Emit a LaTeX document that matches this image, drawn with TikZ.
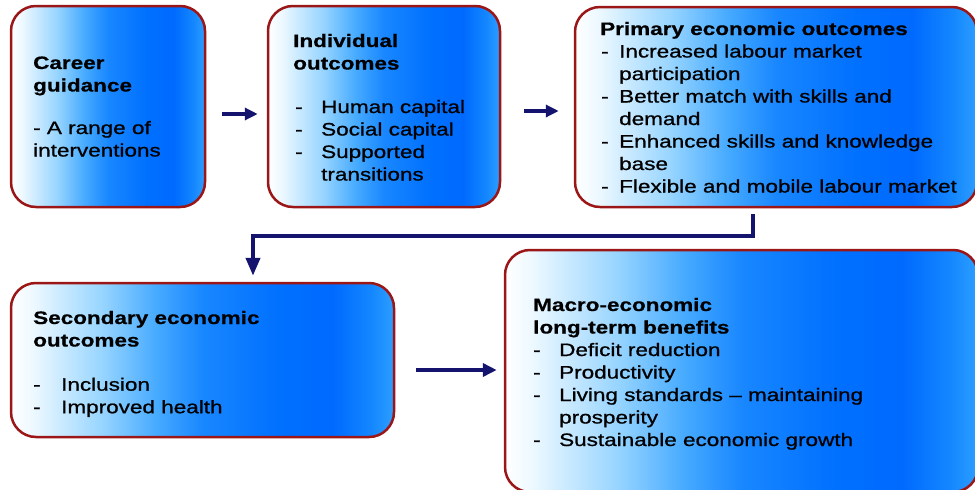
\documentclass[tikz,border=0pt]{standalone}
\usepackage{fontspec}
\setmainfont{Liberation Sans}[FakeStretch=1.25, UprightFeatures={FakeBold=0.9}, BoldFeatures={FakeBold=0.6}]
\usetikzlibrary{arrows.meta,calc}

\definecolor{edgered}{RGB}{155,22,22}
\definecolor{linkblue}{RGB}{20,20,110}
\definecolor{sa}{RGB}{236,248,255}
\definecolor{sb}{RGB}{150,212,255}
\definecolor{sc}{RGB}{70,170,255}
\definecolor{sd}{RGB}{25,135,255}
\definecolor{se}{RGB}{0,112,255}
\definecolor{sf}{RGB}{0,106,255}
\definecolor{sg}{RGB}{20,135,255}
\definecolor{sh}{RGB}{45,158,255}

% white on the left, deep blue towards the right, a little lighter at the edge
\pgfdeclarehorizontalshading{boxshade}{100bp}{%
  color(0bp)=(white); color(25bp)=(white); color(28bp)=(sa);
  color(37bp)=(sb); color(44bp)=(sc); color(50bp)=(sd);
  color(60bp)=(se); color(67bp)=(sf); color(72bp)=(sg);
  color(75bp)=(sh); color(100bp)=(sh)}

\newcommand\itm[1][26pt]{\makebox[#1][l]{-}}
\newcommand\cont[1][26pt]{\hspace*{#1}}

\tikzset{
  box/.style={draw=edgered, line width=2.5pt, rounded corners=25pt,
    shading=boxshade, inner sep=0pt},
  txt/.style={anchor=base west, inner sep=0pt,
    font=\fontsize{18}{22.5}\selectfont},
  link/.style={draw=linkblue, line width=4pt,
    -{Triangle[length=14pt,width=13pt]}},
}

\begin{document}
\begin{tikzpicture}[x=1pt, y=-1pt]
\useasboundingbox (0,0) rectangle (975,490);

% boxes
\node[box, minimum width=194pt, minimum height=201pt] (b1) at (108,106.5) {};
\node[box, minimum width=232pt, minimum height=201pt] (b2) at (384,106.5) {};
\node[box, minimum width=402pt, minimum height=200pt] (b3) at (776,107) {};
\node[box, minimum width=383pt, minimum height=154pt] (b4) at (202.5,360) {};
\node[box, minimum width=473pt, minimum height=242pt] (b5) at (741.5,371) {};

% texts
\node[txt] (t1h) at (33,69) {\parbox[t]{170pt}{\bfseries Career\\guidance}};
\node[txt] (t1i) at (33,134) {\parbox[t]{170pt}{- A range of\\interventions}};

\node[txt] (t2h) at (293,47) {\parbox[t]{200pt}{\bfseries Individual\\outcomes}};
\node[txt] (t2i) at (295,113) {\parbox[t]{200pt}{\itm Human capital\\\itm Social capital\\\itm Supported\\\cont transitions}};

\node[txt] (t3h) at (600,35) {\parbox[t]{370pt}{\bfseries Primary economic outcomes}};
\node[txt] (t3i) at (601,57.5) {\parbox[t]{370pt}{\itm[18pt]Increased labour market\\\cont[18pt]participation\\\itm[18pt]Better match with skills and\\\cont[18pt]demand\\\itm[18pt]Enhanced skills and knowledge\\\cont[18pt]base\\\itm[18pt]Flexible and mobile labour market}};

\node[txt] (t4h) at (33,324) {\parbox[t]{350pt}{\bfseries Secondary economic\\outcomes}};
\node[txt] (t4i) at (33,390.7) {\parbox[t]{350pt}{\itm[28pt]Inclusion\\\itm[28pt]Improved health}};

\node[txt] (t5h) at (533,311) {\parbox[t]{420pt}{\bfseries Macro-economic\\long-term benefits}};
\node[txt] (t5i) at (533,356) {\parbox[t]{420pt}{\itm Deficit reduction\\\itm Productivity\\\itm Living standards -- maintaining\\\cont prosperity\\\itm Sustainable economic growth}};

% connectors
\draw[link, -{Triangle[length=13pt,width=12pt]}] ($(b1.east)+(16,7.5)$) -- ($(b2.west)+(-9,7.5)$);
\draw[link, -{Triangle[length=13pt,width=12pt]}] ($(b2.east)+(23,4.5)$) -- ($(b3.west)+(-15,4)$);
\coordinate (drop) at ($(b4.north)+(50.5,-6)$);
\draw[link, -{Triangle[length=18pt,width=14pt]}] ($(b3.south)+(-23,6)$) |- ($(drop)+(0,-40)$) -- (drop);
\draw[link] ($(b4.east)+(21,10)$) -- ($(b5.west)+(-7,-1)$);
\end{tikzpicture}
\end{document}
